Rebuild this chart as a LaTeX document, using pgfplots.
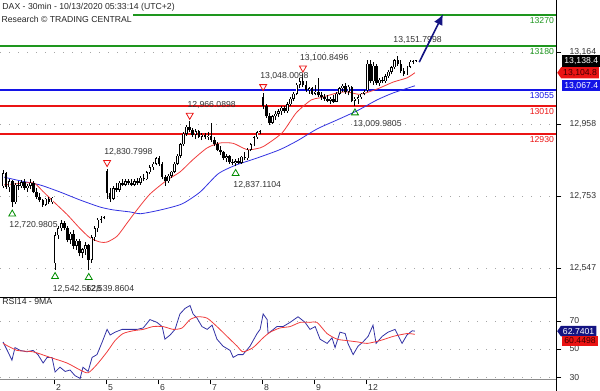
\documentclass[border=0pt]{standalone}
\usepackage{pgfplots}
\pgfplotsset{compat=1.18}
\usepackage{pgfplotstable}
\usepackage{fontspec}
\setmainfont{Liberation Sans}
\usetikzlibrary{arrows.meta,shapes.symbols}

\definecolor{lvlgreen}{RGB}{30,150,30}
\definecolor{lvlblue}{RGB}{20,20,230}
\definecolor{lvlred}{RGB}{235,20,20}
\definecolor{maRed}{RGB}{240,60,60}
\definecolor{maBlue}{RGB}{50,50,225}
\definecolor{rsiBlue}{RGB}{50,50,165}
\definecolor{arrowNavy}{RGB}{20,20,130}
\definecolor{fracGreen}{RGB}{0,140,0}
\definecolor{txt}{RGB}{50,50,50}
\newcommand\lbl{\fontsize{6.5}{7}\selectfont}

\pgfplotstableread{
i o h l c
0 12780 12828 12775 12818
1 12818 12822 12772 12778
2 12778 12800 12765 12795
3 12795 12798 12720.98 12735
4 12735 12790 12730 12785
5 12785 12795 12770 12780
6 12780 12797 12775 12792
7 12792 12800 12770 12775
8 12775 12786 12765 12782
9 12782 12802 12772 12790
10 12790 12795 12760 12765
11 12765 12775 12745 12750
12 12750 12760 12735 12740
13 12740 12745 12722 12728
14 12728 12748 12724 12745
15 12745 12750 12730 12735
16 12735 12750 12730 12748
17 12560 12650 12542.56 12640
18 12640 12668 12630 12660
19 12660 12685 12652 12675
20 12675 12682 12655 12662
21 12662 12668 12620 12628
22 12628 12650 12615 12645
23 12645 12655 12600 12610
24 12610 12630 12598 12625
25 12625 12630 12580 12590
26 12590 12605 12575 12600
27 12600 12620 12585 12612
28 12612 12615 12539.86 12570
29 12570 12640 12562 12635
30 12635 12668 12625 12660
31 12660 12690 12650 12685
32 12685 12695 12675 12690
33 12690 12694 12686 12692
34 12825 12830.80 12745 12760
35 12760 12775 12735 12745
36 12745 12780 12740 12775
37 12775 12790 12765 12770
38 12770 12795 12765 12790
39 12790 12800 12780 12785
40 12785 12800 12780 12795
41 12795 12802 12785 12790
42 12790 12800 12780 12785
43 12785 12800 12780 12795
44 12795 12805 12785 12790
45 12790 12810 12785 12805
46 12805 12815 12795 12800
47 12800 12825 12798 12820
48 12820 12840 12815 12835
49 12835 12850 12828 12845
50 12845 12865 12840 12860
51 12860 12866 12838 12845
52 12845 12850 12800 12808
53 12808 12812 12782 12795
54 12795 12815 12790 12810
55 12810 12825 12805 12822
56 12822 12850 12818 12845
57 12845 12872 12840 12868
58 12868 12905 12862 12900
59 12900 12935 12895 12930
60 12930 12955 12925 12950
61 12950 12966.09 12935 12940
62 12940 12948 12920 12928
63 12928 12945 12915 12938
64 12938 12942 12918 12922
65 12922 12932 12912 12928
66 12928 12933 12915 12920
67 12920 12935 12912 12925
68 12925 12962 12908 12912
69 12912 12920 12895 12900
70 12900 12908 12880 12885
71 12885 12895 12870 12878
72 12878 12882 12855 12860
73 12860 12872 12850 12866
74 12866 12870 12845 12850
75 12850 12858 12840 12846
76 12846 12858 12837.11 12852
77 12852 12862 12845 12848
78 12848 12868 12844 12865
79 12865 12878 12855 12860
80 12860 12890 12855 12885
81 12885 12905 12880 12900
82 12900 12925 12895 12920
83 12920 12938 12915 12935
84 12935 12942 12930 12938
85 13035 13048.01 13000 13010
86 13010 13015 12975 12980
87 12980 12990 12955 12962
88 12962 12985 12958 12980
89 12980 12995 12970 12988
90 12988 13000 12978 12995
91 12995 13010 12985 13005
92 13005 13010 12990 12995
93 12995 13020 12990 13015
94 13015 13035 13010 13030
95 13030 13050 13025 13045
96 13045 13075 13040 13070
97 13070 13090 13060 13080
98 13080 13100.85 13065 13070
99 13070 13080 13050 13055
100 13055 13065 13045 13060
101 13060 13065 13040 13045
102 13045 13070 13040 13050
103 13050 13090 13035 13040
104 13040 13050 13028 13035
105 13035 13045 13025 13030
106 13030 13040 13020 13025
107 13025 13035 13015 13030
108 13030 13040 13018 13022
109 13022 13050 13020 13045
110 13045 13065 13040 13060
111 13060 13072 13050 13068
112 13068 13075 13045 13050
113 13050 13070 13040 13065
114 13065 13068 13020 13025
115 13025 13035 13009.98 13030
116 13030 13040 13015 13035
117 13035 13048 13030 13045
118 13045 13055 13040 13050
119 13055 13140 13050 13130
120 13130 13142 13075 13080
121 13080 13135 13070 13125
122 13125 13130 13070 13075
123 13075 13090 13068 13085
124 13085 13092 13075 13080
125 13080 13100 13075 13095
126 13095 13112 13090 13108
127 13108 13125 13100 13120
128 13120 13145 13115 13140
129 13140 13151.80 13125 13130
130 13130 13140 13105 13110
131 13110 13118 13095 13100
132 13100 13125 13098 13122
133 13122 13140 13118 13136
134 13136 13142 13130 13138
135 13138 13140 13136 13138.4
}\candles

\begin{document}
\begin{tikzpicture}
\useasboundingbox (0,0) rectangle (450pt,293.25pt);
% ---------------- main price panel ----------------
\begin{axis}[
  at={(0pt,293.25pt)}, anchor=north west,
  scale only axis, width=417pt, height=222.75pt,
  xmin=-1, xmax=180.7, ymin=12464, ymax=13312.5,
  axis x line=none, axis y line*=right,
  y axis line style={black, line width=0.6pt, -},
  ytick={12547,12753,12958,13164},
  yticklabels={{12,547},{12,753},{12,958},{13,164}},
  ytick style={black, line width=0.5pt},
  tick align=outside, major tick length=4pt,
  ymajorgrids, grid style={black!35, line width=0.5pt, dash pattern=on 0.75pt off 6pt},
  yticklabel style={font=\lbl, text=txt, anchor=west, inner sep=0pt, xshift=6pt},
  clip=false,
]
% level lines
\addplot[lvlgreen, line width=1.4pt] coordinates {(-1,13270) (180.7,13270)};
\addplot[lvlgreen, line width=1.4pt] coordinates {(-1,13180) (180.7,13180)};
\addplot[lvlblue, line width=1.4pt] coordinates {(-1,13055) (180.7,13055)};
\addplot[lvlred, line width=1.4pt] coordinates {(-1,13010) (180.7,13010)};
\addplot[lvlred, line width=1.4pt] coordinates {(-1,12930) (180.7,12930)};
\node[anchor=east, inner sep=0pt, font=\lbl, text=lvlgreen] at (axis cs:180.1,13254) {13270};
\node[anchor=east, inner sep=0pt, font=\lbl, text=lvlgreen] at (axis cs:180.1,13164) {13180};
\node[anchor=east, inner sep=0pt, font=\lbl, text=lvlblue] at (axis cs:180.1,13039) {13055};
\node[anchor=east, inner sep=0pt, font=\lbl, text=lvlred] at (axis cs:180.1,12994) {13010};
\node[anchor=east, inner sep=0pt, font=\lbl, text=lvlred] at (axis cs:180.1,12914) {12930};

% moving averages
\addplot[maBlue, line width=0.6pt, smooth, tension=0.4] coordinates {
(0,12807) (5.6,12796) (12.1,12784) (18.6,12764) (25.2,12741) (31.7,12721) (35.9,12713)
(41.5,12707) (45,12702) (51.6,12713) (58.5,12730) (64.4,12764) (70.3,12816) (76.1,12841)
(82,12858) (90.2,12884) (96.1,12910) (102.6,12944) (109.2,12970) (115.7,12996)
(122.2,13027) (127.5,13047) (134.6,13067.4)};
\addplot[maRed, line width=0.6pt, smooth, tension=0.4] coordinates {
(0,12784) (5,12788) (10,12790) (13,12766) (16.3,12738) (21,12699) (25,12661) (28.4,12633)
(31.7,12621) (34,12621) (37.3,12638) (40.5,12675) (43.5,12710) (48,12758) (53.6,12798)
(57.8,12821) (62,12856) (66.7,12890) (70.9,12904) (75.2,12903) (79.7,12885) (83,12888)
(85.3,12895) (91.2,12933) (95.8,12990) (100.7,13027) (103.6,13033) (109.2,13047)
(112.4,13050) (116.7,13043) (122.2,13058) (127.5,13078) (132,13090) (134.6,13104.8)};

% candles: wicks
\addplot[draw=none, mark=none, forget plot,
  error bars/.cd, y dir=plus, y explicit, error mark=none,
  error bar style={draw=black, line width=0.7pt}]
  table[x=i, y=l, y error expr={\thisrow{h}-\thisrow{l}}] {\candles};
% candle bodies
\addplot[draw=none, mark=none, forget plot,
  error bars/.cd, y dir=plus, y explicit, error mark=none,
  error bar style={draw=black, line width=1.95pt}]
  table[x=i, y expr={min(\thisrow{o},\thisrow{c})}, y error expr={max(abs(\thisrow{c}-\thisrow{o}),2.5)}] {\candles};
% hollow inside of rising candles
\addplot[draw=none, mark=none, forget plot,
  restrict expr to domain={\thisrow{c}-\thisrow{o}}{3.5:100000},
  error bars/.cd, y dir=plus, y explicit, error mark=none,
  error bar style={draw=white, line width=0.75pt}]
  table[x=i, y expr={\thisrow{o}+1.6}, y error expr={\thisrow{c}-\thisrow{o}-3.2}] {\candles};

% fractal markers
\addplot[only marks, mark=triangle, mark size=3pt, mark options={fracGreen, line width=0.6pt, fill=white}]
  coordinates {(3,12701) (17,12522.5) (28,12519.8) (76,12817) (115,12990)};
\addplot[only marks, mark=triangle, mark size=3pt, mark options={lvlred, line width=0.6pt, fill=white, rotate=180}]
  coordinates {(34,12848) (61,12983) (85,13065) (98,13118)};
\node[anchor=west, inner sep=0pt, font=\lbl, text=txt] at (axis cs:2.0,12669) {12,720.9805};
\node[anchor=west, inner sep=0pt, font=\lbl, text=txt] at (axis cs:16.2,12488) {12,542.5628};
\node[anchor=west, inner sep=0pt, font=\lbl, text=txt] at (axis cs:27.0,12488) {12,539.8604};
\node[anchor=west, inner sep=0pt, font=\lbl, text=txt] at (axis cs:75.2,12785) {12,837.1104};
\node[anchor=west, inner sep=0pt, font=\lbl, text=txt] at (axis cs:114.4,12958) {13,009.9805};
\node[anchor=west, inner sep=0pt, font=\lbl, text=txt] at (axis cs:33.0,12877) {12,830.7998};
\node[anchor=west, inner sep=0pt, font=\lbl, text=txt] at (axis cs:60.2,13012) {12,966.0898};
\node[anchor=west, inner sep=0pt, font=\lbl, text=txt] at (axis cs:84.0,13094) {13,048.0098};
\node[anchor=west, inner sep=0pt, font=\lbl, text=txt] at (axis cs:97.0,13147) {13,100.8496};
\node[anchor=west, inner sep=0pt, font=\lbl, text=txt] at (axis cs:127.5,13198) {13,151.7998};

% projection arrow
\addplot[arrowNavy, line width=1.2pt, -{Latex[length=8pt,width=7pt]}] coordinates {(136,13135) (143.8,13272)};

% value tags
\node[fill=black, text=white, anchor=west, inner xsep=1.5pt, inner ysep=0pt, minimum height=8.5pt, font=\lbl] at (axis cs:182.7,13138.4) {13,138.4};
\node[signal, signal to=west, signal pointer angle=110, fill=lvlred, text=black!75!red, anchor=west, inner xsep=1.5pt, inner ysep=0pt, minimum height=8.5pt, font=\lbl] at (axis cs:181.0,13104.8) {13,104.8};
\node[fill=lvlblue, text=white, anchor=west, inner xsep=1.5pt, inner ysep=0pt, minimum height=8.5pt, font=\lbl] at (axis cs:182.7,13067.4) {13,067.4};

% titles
\node[anchor=west, inner sep=0pt, font=\lbl, text=black!85] at (rel axis cs:0.004,0.976) {DAX - 30min - 10/13/2020 05:33:14 (UTC+2)};
\node[anchor=west, inner xsep=1pt, inner ysep=1pt, fill=white, font=\lbl, text=black!85] at (rel axis cs:0.0,0.936) {Research © TRADING CENTRAL};
\end{axis}

% ---------------- RSI panel ----------------
\begin{axis}[
  at={(0pt,70.5pt)}, anchor=north west,
  scale only axis, width=417pt, height=61.5pt,
  xmin=-1, xmax=180.7, ymin=28.6, ymax=87.1,
  axis x line*=bottom, axis y line*=right,
  x axis line style={black!45, line width=0.6pt, -},
  y axis line style={black, line width=0.6pt, -},
  xtick={16.8,33.8,50.8,67.8,84.8,101.8,118.8},
  xticklabels={2,5,6,7,8,9,12},
  ytick={30,50,70}, yticklabels={30,50,70},
  tick style={black, line width=0.5pt},
  tick align=outside, major tick length=4pt,
  ymajorgrids, grid style={black!35, line width=0.5pt, dash pattern=on 0.75pt off 6pt},
  yticklabel style={font=\lbl, text=txt, anchor=west, inner sep=0pt, xshift=6pt},
  xticklabel style={font=\lbl, text=txt, anchor=north west, inner sep=0pt, xshift=1pt},
  clip=false,
]
\draw[black, line width=0.6pt] (rel axis cs:0,1) -- (rel axis cs:1,1);
\draw[black, line width=0.6pt] (rel axis cs:1,0) -- ++(0pt,-9pt);
\addplot[rsiBlue, line width=0.6pt] coordinates {
(0,55) (1.6,48) (2.9,42) (3.9,51) (5.6,49) (7.8,48) (9.8,49) (11.4,46) (13.1,40) (14.4,44)
(16,44) (17,33.6) (18.6,37) (20.3,34) (21.9,35) (23.5,31) (25.2,29) (26.1,37) (27.8,34)
(29.1,44) (30.7,46) (32.4,55) (34,64) (35,60) (36.6,62) (38.9,64) (41.5,64) (43.8,64)
(45.8,65) (48,71) (50.3,69) (52,66) (52.9,57) (54.6,60) (56.2,64) (57.8,75) (59.5,79)
(61.1,81) (62.1,75) (63.4,72) (65,66) (66.7,64) (68.3,67) (69.9,57) (71.9,52) (74.2,49)
(75.2,44) (76.8,46) (78.4,46) (80.7,52) (83,61) (84,64) (85,75) (86.3,71) (86.6,61)
(89.5,66) (91.5,66) (93.8,69) (96.4,73) (98.7,69) (100.3,64) (102,66) (103.6,57)
(105.9,54) (107.5,58) (108.5,51) (110.1,62) (111.8,61) (112.7,54) (114.4,46) (116,52)
(117.6,55) (119.3,59) (120.9,67) (121.9,54) (123.9,59) (125.8,62) (128.1,64) (130.4,54)
(132,60) (133.7,63) (134.6,62.74)};
\addplot[maRed, line width=0.6pt, smooth, tension=0.4] coordinates {
(0,54) (4.6,49) (9.8,48) (15.4,44) (20.9,40) (25.2,35) (27.8,33) (30.7,39) (34,48)
(36.6,56) (39.2,61) (42.5,63) (45.8,64) (49,66) (52.3,66) (55.6,64) (58.5,65) (61.1,71)
(63.7,73) (66.7,72) (69.9,66) (73.2,59) (76.5,52) (78.4,48) (81.7,51) (85,58) (87.3,62)
(90.5,65) (93.8,66) (97.1,69) (100.3,69) (102.6,69) (105.9,61) (109.2,57) (112.4,56)
(116,55) (119,54) (123.2,56) (127.5,59) (132,61) (134.6,60.45)};
\node[anchor=west, inner sep=0pt, font=\lbl, text=black!85] at (rel axis cs:0.004,0.94) {RSI14 - 9MA};
\node[signal, signal to=west, signal pointer angle=110, fill=arrowNavy, text=white, anchor=west, inner xsep=1.5pt, inner ysep=0pt, minimum height=8pt, font=\lbl] at (axis cs:181.0,62.74) {62.7401};
\node[fill=lvlred, text=black!75!red, anchor=west, inner xsep=1.5pt, inner ysep=0pt, minimum height=8pt, font=\lbl] at (axis cs:182.7,55.7) {60.4498};
\end{axis}
\end{tikzpicture}
\end{document}
